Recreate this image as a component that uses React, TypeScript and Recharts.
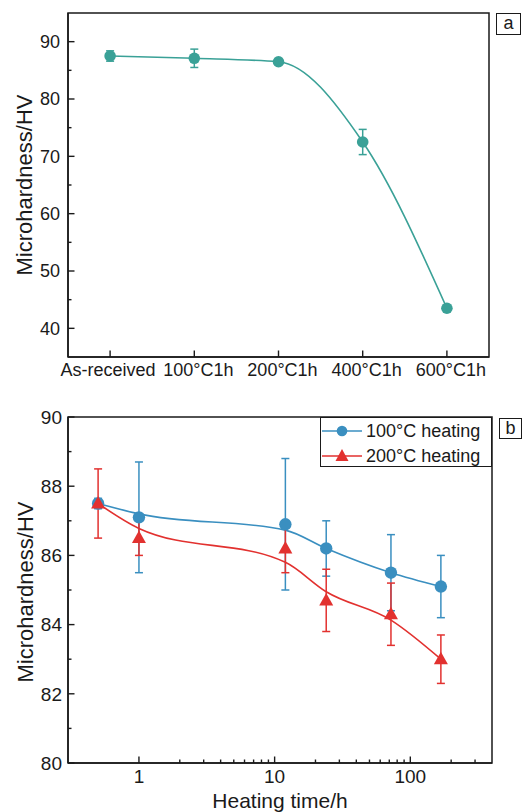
import React from 'react';
import { ComposedChart, Line, XAxis, YAxis, ErrorBar, ReferenceArea, Legend } from 'recharts';

// ---------- Panel (a) data ----------
const categoriesA = ['As-received', '100°C1h', '200°C1h', '400°C1h', '600°C1h'];
const hardnessA = [87.5, 87.1, 86.5, 72.5, 43.5];
const errorA = [0.9, 1.6, 0.3, 2.2, 0.4];
const yTicksA = [40, 45, 50, 55, 60, 65, 70, 75, 80, 85, 90];
const yMajorA = [40, 50, 60, 70, 80, 90];

// ---------- Panel (b) data ----------
const timesB = [0.5, 1, 12, 24, 72, 168];
const hv100 = [87.5, 87.1, 86.9, 86.2, 85.5, 85.1];
const err100 = [0.15, 1.6, 1.9, 0.8, 1.1, 0.9];
const fit100 = [87.5, 87.2, 86.73, 86.2, 85.5, 85.1];
const hv200 = [87.5, 86.5, 86.2, 84.7, 84.3, 83.0];
const err200 = [1.0, 0.5, 0.7, 0.9, 0.9, 0.7];
const fit200 = [87.5, 86.78, 85.8, 84.95, 84.13, 83.0];
const xTicksB = [1, 2, 3, 4, 5, 6, 7, 8, 9, 10, 20, 30, 40, 50, 60, 70, 80, 90, 100, 200, 300];
const xMajorB = [1, 10, 100];
const yTicksB = [80, 81, 82, 83, 84, 85, 86, 87, 88, 89, 90];
const yMajorB = [80, 82, 84, 86, 88, 90];
const seriesNames = ['100°C heating', '200°C heating'];

const FONT = "'Liberation Sans', Arial, sans-serif";
const INK = '#1a1a1a';
const TEAL = '#3aa197';
const BLUE = '#3a8fc0';
const RED = '#e2312f';

const dataA = categoriesA.map((c, i) => ({ cat: c, hv: hardnessA[i], err: errorA[i] }));
const dataB = timesB.map((t, i) => ({
  t,
  hv100: hv100[i],
  err100: err100[i],
  fit100: fit100[i],
  hv200: hv200[i],
  err200: err200[i],
  fit200: fit200[i],
}));

const makeYTick = (majors: number[], fontSize: number, gap: number) => (props: any) => {
  const { x, y, payload } = props;
  const major = majors.includes(payload.value);
  return (
    <g>
      <line x1={x} x2={x + (major ? 6.5 : 3.5)} y1={y} y2={y} stroke={INK} strokeWidth={1.4} />
      {major && (
        <text x={x - gap} y={y} dy="0.36em" textAnchor="middle" fontSize={fontSize} fontFamily={FONT} fill={INK} style={{ textAnchor: 'end' }}>
          {payload.value}
        </text>
      )}
    </g>
  );
};

const makeXTick = (majors: any[] | null, fontSize: number, dy: number, shiftFirst = 0, shiftRest = 0) => (props: any) => {
  const { x, y, payload, index } = props;
  const major = majors ? majors.includes(payload.value) : true;
  const dx = index === 0 ? shiftFirst : shiftRest;
  return (
    <g>
      <line x1={x} x2={x} y1={y} y2={y - (major ? 6.5 : 3.5)} stroke={INK} strokeWidth={1.4} />
      {major && (
        <text x={x + dx} y={y + dy} textAnchor="middle" fontSize={fontSize} fontFamily={FONT} fill={INK}>
          {payload.value}
        </text>
      )}
    </g>
  );
};

const tealDot = (props: any) => {
  const { cx, cy, index } = props;
  return <circle key={`a-${index}`} cx={cx} cy={cy} r={5.8} fill={TEAL} />;
};
const blueDot = (props: any) => {
  const { cx, cy, index } = props;
  return <circle key={`b-${index}`} cx={cx} cy={cy} r={6.2} fill={BLUE} />;
};
const redDot = (props: any) => {
  const { cx, cy, index } = props;
  return (
    <path
      key={`r-${index}`}
      d={`M${cx},${cy - 7.5} L${cx + 7},${cy + 5} L${cx - 7},${cy + 5} Z`}
      fill={RED}
    />
  );
};

const LegendBox = () => (
  <div
    style={{
      position: 'relative',
      width: 172,
      height: 50,
      boxSizing: 'border-box',
      border: `1.5px solid ${INK}`,
      background: '#fff',
      fontFamily: FONT,
      fontSize: 18,
      color: INK,
    }}
  >
    {seriesNames.map((name, i) => (
      <div key={name} style={{ position: 'absolute', left: 0, top: 1 + i * 25, height: 24, width: 170 }}>
        <svg width={44} height={24} style={{ position: 'absolute', left: 0, top: 0 }}>
          <line x1={1} x2={41} y1={12} y2={12} stroke={i === 0 ? BLUE : RED} strokeWidth={1.6} />
          {i === 0 ? (
            <circle cx={21} cy={12} r={5.3} fill={BLUE} />
          ) : (
            <path d="M21,5 L27.5,17 L14.5,17 Z" fill={RED} />
          )}
        </svg>
        <span style={{ position: 'absolute', left: 45, top: 1, lineHeight: '22px', whiteSpace: 'nowrap' }}>{name}</span>
      </div>
    ))}
  </div>
);

const boxLabel = (text: string, left: number, top: number, w: number, h: number) => (
  <div
    style={{
      position: 'absolute',
      left,
      top,
      width: w,
      height: h,
      boxSizing: 'border-box',
      border: `1.3px solid ${INK}`,
      fontFamily: FONT,
      fontSize: 18,
      lineHeight: `${h - 3}px`,
      textAlign: 'center',
      color: INK,
      background: '#fff',
    }}
  >
    {text}
  </div>
);

export default function App() {
  return (
    <div style={{ position: 'absolute', left: 0, top: 0, width: 530, height: 812, background: '#fff', overflow: 'hidden' }}>
      <div style={{ position: 'absolute', left: 0, top: 0 }}>
        <ComposedChart width={530} height={395} data={dataA} margin={{ top: 13, right: 41, bottom: 0, left: 0 }}>
          <XAxis
            dataKey="cat"
            type="category"
            scale="band"
            height={38}
            interval={0}
            tickSize={0}
            tickMargin={0}
            tickLine={false}
            axisLine={{ stroke: INK, strokeWidth: 1.5 }}
            tick={makeXTick(null, 18, 19, -2, 4)}
          />
          <YAxis
            type="number"
            domain={[35, 95]}
            ticks={yTicksA}
            interval={0}
            width={68}
            tickSize={0}
            tickMargin={0}
            tickLine={false}
            axisLine={{ stroke: INK, strokeWidth: 1.5 }}
            tick={makeYTick(yMajorA, 18, 8)}
            label={{
              content: () => (
                <text
                  x={32}
                  y={185}
                  transform="rotate(-90, 32, 185)"
                  textAnchor="middle"
                  fontSize={22}
                  fontFamily={FONT}
                  fill={INK}
                >
                  Microhardness/HV
                </text>
              ),
            }}
          />
          <ReferenceArea y1={35} y2={95} fill="none" stroke={INK} strokeWidth={1.5} ifOverflow="visible" />
          <Line
            dataKey="hv"
            type="monotone"
            stroke={TEAL}
            strokeWidth={1.6}
            dot={tealDot}
            activeDot={false}
            isAnimationActive={false}
          >
            <ErrorBar dataKey="err" width={4} stroke={TEAL} strokeWidth={1.5} direction="y" />
          </Line>
        </ComposedChart>
      </div>

      <div style={{ position: 'absolute', left: 0, top: 395 }}>
        <ComposedChart width={530} height={417} data={dataB} margin={{ top: 22, right: 38, bottom: 0, left: 0 }}>
          <XAxis
            dataKey="t"
            type="number"
            scale="log"
            domain={[0.3, 400]}
            allowDataOverflow
            ticks={xTicksB}
            interval={0}
            height={49}
            tickSize={0}
            tickMargin={0}
            tickLine={false}
            axisLine={{ stroke: INK, strokeWidth: 1.5 }}
            tick={makeXTick(xMajorB, 19, 20)}
            label={{
              content: () => (
                <text x={280} y={413} textAnchor="middle" fontSize={21} fontFamily={FONT} fill={INK}>
                  Heating time/h
                </text>
              ),
            }}
          />
          <YAxis
            type="number"
            domain={[80, 90]}
            ticks={yTicksB}
            interval={0}
            width={68}
            tickSize={0}
            tickMargin={0}
            tickLine={false}
            axisLine={{ stroke: INK, strokeWidth: 1.5 }}
            tick={makeYTick(yMajorB, 19, 6)}
            label={{
              content: () => (
                <text
                  x={33}
                  y={197}
                  transform="rotate(-90, 33, 197)"
                  textAnchor="middle"
                  fontSize={22}
                  fontFamily={FONT}
                  fill={INK}
                >
                  Microhardness/HV
                </text>
              ),
            }}
          />
          <ReferenceArea x1={0.3} x2={400} y1={80} y2={90} fill="none" stroke={INK} strokeWidth={1.5} ifOverflow="visible" />
          <Legend
            layout="vertical"
            align="center"
            verticalAlign="middle"
            content={() => <LegendBox />}
            wrapperStyle={{ left: 320, top: 22, width: 172, height: 50 }}
          />
          <Line
            dataKey="fit100"
            type="monotone"
            stroke={BLUE}
            strokeWidth={1.6}
            dot={false}
            activeDot={false}
            legendType="none"
            isAnimationActive={false}
          />
          <Line
            dataKey="hv100"
            name={seriesNames[0]}
            stroke="none"
            dot={blueDot}
            activeDot={false}
            isAnimationActive={false}
          >
            <ErrorBar dataKey="err100" width={4} stroke={BLUE} strokeWidth={1.5} direction="y" />
          </Line>
          <Line
            dataKey="fit200"
            type="monotone"
            stroke={RED}
            strokeWidth={1.6}
            dot={false}
            activeDot={false}
            legendType="none"
            isAnimationActive={false}
          />
          <Line
            dataKey="hv200"
            name={seriesNames[1]}
            stroke="none"
            dot={redDot}
            activeDot={false}
            isAnimationActive={false}
          >
            <ErrorBar dataKey="err200" width={4} stroke={RED} strokeWidth={1.5} direction="y" />
          </Line>
        </ComposedChart>
      </div>

      {boxLabel('a', 496, 13, 25, 22)}
      {boxLabel('b', 499, 418, 23, 21)}
    </div>
  );
}
